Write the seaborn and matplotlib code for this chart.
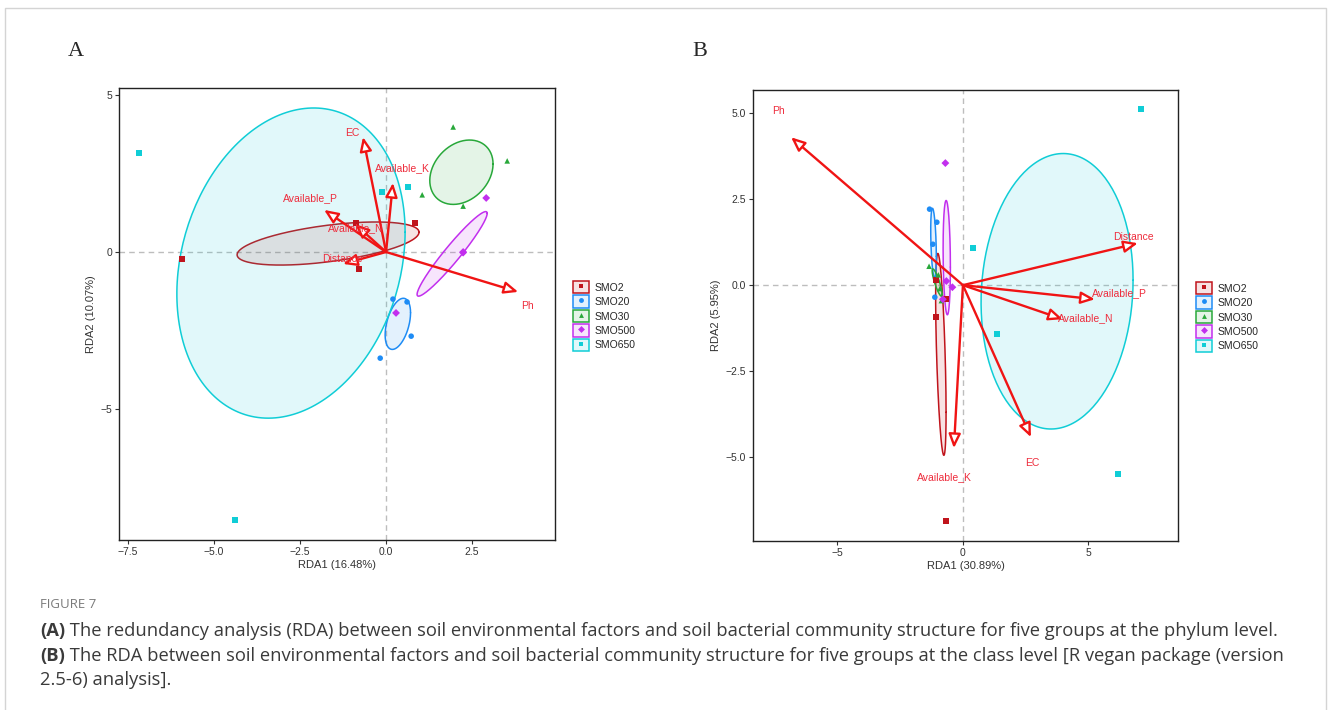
import numpy as np
import pandas as pd
import matplotlib
matplotlib.use("Agg")
import matplotlib.pyplot as plt
import seaborn as sns
from matplotlib.patches import Rectangle
from matplotlib.lines import Line2D
from matplotlib.legend_handler import HandlerTuple

groups = ["SMO2", "SMO20", "SMO30", "SMO500", "SMO650"]
colors = ["#C0141C", "#1E8CF5", "#28A83A", "#C22FEE", "#10CDD6"]
markers = ["s", "o", "^", "D", "s"]

# Panel A - phylum level (4 samples per group)
a_group = ["SMO2"] * 4 + ["SMO20"] * 4 + ["SMO30"] * 4 + ["SMO500"] * 4 + ["SMO650"] * 4
a_rda1 = [-5.93, -0.78, -0.87, 0.84,
          0.20, 0.61, 0.73, -0.17,
          1.95, 3.52, 1.05, 2.24,
          2.91, 2.24, 2.24, 0.29,
          -7.18, -0.12, 0.64, -4.39]
a_rda2 = [-0.22, -0.54, 0.92, 0.92,
          -1.50, -1.59, -2.68, -3.38,
          3.98, 2.90, 1.82, 1.46,
          1.72, 0.00, -0.02, -1.94,
          3.15, 1.91, 2.07, -8.54]
a_env = ["EC", "Available_K", "Available_P", "Available_N", "Distance", "Ph"]
a_env_x = [-0.67, 0.20, -1.80, -0.90, -1.25, 3.84]
a_env_y = [3.66, 2.20, 1.34, 0.89, -0.38, -1.27]
a_lab_x = [-0.99, 0.47, -2.21, -0.87, -1.28, 4.10]
a_lab_y = [3.79, 2.68, 1.72, 0.76, -0.22, -1.72]

# Panel B - class level
b_group = a_group
b_rda1 = [-1.08, -0.68, -1.08, -0.68,
          -1.33, -1.04, -1.20, -1.12,
          -1.35, -0.98, -0.92, -0.86,
          -0.70, -0.66, -0.42, -0.80,
          7.09, 0.40, 1.35, 6.17]
b_rda2 = [0.15, -0.41, -0.93, -6.86,
          2.21, 1.83, 1.19, -0.35,
          0.55, 0.30, -0.10, -0.45,
          3.55, 0.12, -0.06, -0.41,
          5.12, 1.08, -1.42, -5.49]
b_env = ["Ph", "Distance", "Available_P", "Available_N", "EC", "Available_K"]
b_env_x = [-6.85, 6.97, 5.26, 3.98, 2.71, -0.36]
b_env_y = [4.30, 1.22, -0.41, -0.99, -4.42, -4.74]
b_lab_x = [-7.37, 6.80, 6.25, 4.90, 2.75, -0.72]
b_lab_y = [5.06, 1.40, -0.23, -0.96, -5.17, -5.58]

dfA = pd.DataFrame({"group": a_group, "RDA1": a_rda1, "RDA2": a_rda2})
dfB = pd.DataFrame({"group": b_group, "RDA1": b_rda1, "RDA2": b_rda2})

sns.set_theme(style="ticks")
plt.rcParams["font.family"] = ["Liberation Sans", "DejaVu Sans"]

fig = plt.figure(figsize=(13.31, 7.10), dpi=100)
axA = fig.add_axes([0.0894, 0.2394, 0.3276, 0.6366])
axB = fig.add_axes([0.5657, 0.2380, 0.3193, 0.6350])


def draw_panel(ax, df, env, ex, ey, lx, ly, xlim, ylim, xticks, yticks, xlabel, ylabel):
    ax.axhline(0, color="#BDBDBD", ls=(0, (4, 3)), lw=1, zorder=1)
    ax.axvline(0, color="#BDBDBD", ls=(0, (4, 3)), lw=1, zorder=1)

    # group ellipses from the sample covariance
    t = np.linspace(0, 2 * np.pi, 200)
    circ = np.vstack([np.cos(t), np.sin(t)])
    for g, c in zip(groups, colors):
        pts = df.loc[df.group == g, ["RDA1", "RDA2"]].to_numpy()
        mu = pts.mean(axis=0)
        L = np.linalg.cholesky(np.cov(pts.T))
        ell = mu[:, None] + 0.9 * (L @ circ)
        ax.fill(ell[0], ell[1], color=c, alpha=0.12, lw=0, zorder=2)
        ax.plot(ell[0], ell[1], color=c, lw=1.1, zorder=2)

    sns.scatterplot(data=df, x="RDA1", y="RDA2", hue="group", style="group",
                    hue_order=groups, style_order=groups,
                    palette=colors, markers=markers, s=16, linewidth=0,
                    legend=False, ax=ax, zorder=3)

    for name, x, y, tx, ty in zip(env, ex, ey, lx, ly):
        ax.annotate("", xy=(x, y), xytext=(0, 0),
                    arrowprops=dict(arrowstyle="-|>,head_length=0.7,head_width=0.3",
                                    ec="#F01414", fc="white", lw=1.7,
                                    shrinkA=0, shrinkB=0), zorder=4)
        ax.text(tx, ty, name, color="#EE2C3C", fontsize=7.5, ha="center", va="center", zorder=5)

    ax.set_xlim(xlim)
    ax.set_ylim(ylim)
    ax.set_xticks(xticks)
    ax.set_yticks(yticks)
    ax.set_xlabel(xlabel, fontsize=8, color="#333333", labelpad=2)
    ax.set_ylabel(ylabel, fontsize=8, color="#333333", labelpad=3)
    ax.tick_params(direction="out", length=3, width=0.8, colors="#333333",
                   labelsize=7.5, pad=2)
    for sp in ax.spines.values():
        sp.set_color("#222222")
        sp.set_linewidth(1.0)


draw_panel(axA, dfA, a_env, a_env_x, a_env_y, a_lab_x, a_lab_y,
           (-7.76, 4.91), (-9.17, 5.22), [-7.5, -5, -2.5, 0, 2.5], [-5, 0, 5],
           "RDA1 (16.48%)", "RDA2 (10.07%)")
draw_panel(axB, dfB, b_env, b_env_x, b_env_y, b_lab_x, b_lab_y,
           (-8.37, 8.57), (-7.44, 5.67), [-5, 0, 5], [-5, -2.5, 0, 2.5, 5],
           "RDA1 (30.89%)", "RDA2 (5.95%)")


def add_legend(x0, y0):
    handles = []
    for c, m in zip(colors, markers):
        box = Rectangle((0, 0), 1, 1, facecolor=matplotlib.colors.to_rgba(c, 0.12),
                        edgecolor=c, lw=1.1)
        pt = Line2D([], [], marker=m, color=c, ls="", markersize=3.5, markeredgewidth=0)
        handles.append((box, pt))
    fig.legend(handles, groups, handler_map={tuple: HandlerTuple(ndivide=1, pad=0)},
               loc="upper left", bbox_to_anchor=(x0, y0), bbox_transform=fig.transFigure,
               frameon=False, fontsize=7.5, numpoints=1, handlelength=1.5,
               handleheight=1.45, labelspacing=0.2, handletextpad=0.6,
               borderpad=0, borderaxespad=0)


add_legend(573 / 1331, 1 - 281 / 710)
add_legend(1196 / 1331, 1 - 282 / 710)

# panel letters
fig.text(76 / 1331, 1 - 52 / 710, "A", fontsize=16, family="Liberation Serif", ha="center", va="center")
fig.text(700 / 1331, 1 - 52 / 710, "B", fontsize=16, family="Liberation Serif", ha="center", va="center")

# card border
fig.patches.append(Rectangle((5 / 1331, -0.02), 1321 / 1331, 1.02 - 8 / 710, fill=False,
                             ec="#D4D4D4", lw=1, transform=fig.transFigure))

# caption
cap_font = "Open Sans"
cap_size = 13.2
fig.text(40 / 1331, 1 - 604 / 710, "FIGURE 7", fontsize=9.5, color="#7A7A7A",
         family=cap_font, va="center")
renderer = fig.canvas.get_renderer()
cap_lines = [("(A)", " The redundancy analysis (RDA) between soil environmental factors and soil bacterial community structure for five groups at the phylum level."),
             ("(B)", " The RDA between soil environmental factors and soil bacterial community structure for five groups at the class level [R vegan package (version"),
             ("", "2.5-6) analysis].")]
cap_y = [631, 656, 680]
for (bold, rest), yy in zip(cap_lines, cap_y):
    x = 40 / 1331
    if bold:
        tb = fig.text(x, 1 - yy / 710, bold, fontsize=cap_size, weight="bold", color="#3A3A3A",
                      family=cap_font, va="center")
        x += tb.get_window_extent(renderer).width / fig.bbox.width
    fig.text(x, 1 - yy / 710, rest, fontsize=cap_size, color="#3A3A3A", family=cap_font, va="center")

fig.savefig("out.png", dpi=100)
